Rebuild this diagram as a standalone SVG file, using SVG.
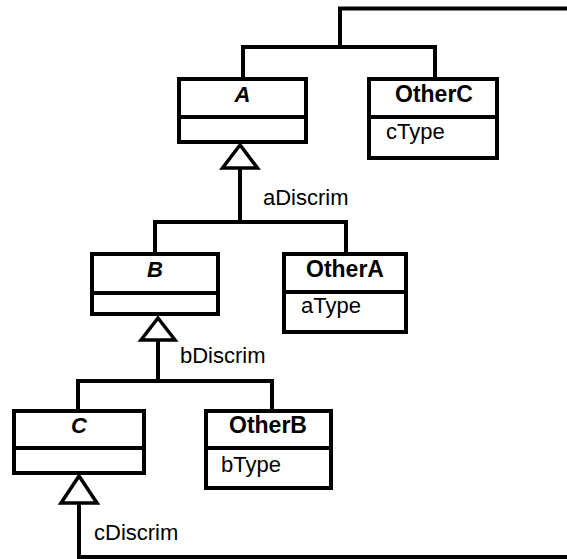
<svg xmlns="http://www.w3.org/2000/svg" width="567" height="559" viewBox="0 0 567 559">
<style>
.box{fill:#fff;stroke:#000;stroke-width:4}
.div{stroke:#000;stroke-width:4}
.ln{fill:none;stroke:#000;stroke-width:4}
.tri{fill:#fff;stroke:#000;stroke-width:3.5;stroke-linejoin:miter}
text{font-family:"Liberation Sans",Arial,sans-serif;font-size:22px;fill:#000}
.nm{font-weight:bold;text-anchor:middle;font-size:23px}
.ab{font-weight:bold;font-style:italic;text-anchor:middle}
</style>
<rect width="567" height="559" fill="#fff"/>
<g id="connectors">
<path class="ln" d="M567 8.5 H340 V47"/>
<path class="ln" d="M243 78 V47 H435 V78"/>
<path class="ln" d="M240 169 V222"/>
<path class="ln" d="M155 253 V222 H346 V253"/>
<polygon class="tri" points="240,145 222.5,168 257.5,168"/>
<text x="263" y="205">aDiscrim</text>
<path class="ln" d="M158 340 V381"/>
<path class="ln" d="M78 410 V381 H272 V410"/>
<polygon class="tri" points="158,318 141,340 175,340"/>
<text x="180" y="363">bDiscrim</text>
<path class="ln" d="M79 503 V557 H567"/>
<polygon class="tri" points="79,476 61,503 97,503"/>
<text x="94" y="540">cDiscrim</text>
</g>
<g id="A">
<rect class="box" x="179" y="79" width="127" height="63"/>
<line class="div" x1="179" y1="117" x2="306" y2="117"/>
<text class="ab" x="242.5" y="102">A</text>
</g>
<g id="OtherC">
<rect class="box" x="369" y="79" width="128" height="79"/>
<line class="div" x1="369" y1="117" x2="497" y2="117"/>
<text class="nm" x="434" y="102">OtherC</text>
<text x="386" y="139">cType</text>
</g>
<g id="B">
<rect class="box" x="92" y="254" width="126" height="60"/>
<line class="div" x1="92" y1="293" x2="218" y2="293"/>
<text class="ab" x="155" y="277">B</text>
</g>
<g id="OtherA">
<rect class="box" x="284" y="254" width="122" height="78"/>
<line class="div" x1="284" y1="292" x2="406" y2="292"/>
<text class="nm" x="345" y="277">OtherA</text>
<text x="301" y="313">aType</text>
</g>
<g id="C">
<rect class="box" x="14" y="411" width="130" height="62"/>
<line class="div" x1="14" y1="448" x2="144" y2="448"/>
<text class="ab" x="79" y="433">C</text>
</g>
<g id="OtherB">
<rect class="box" x="206" y="411" width="125" height="77"/>
<line class="div" x1="206" y1="448" x2="331" y2="448"/>
<text class="nm" x="268" y="433">OtherB</text>
<text x="221" y="472">bType</text>
</g>
</svg>
